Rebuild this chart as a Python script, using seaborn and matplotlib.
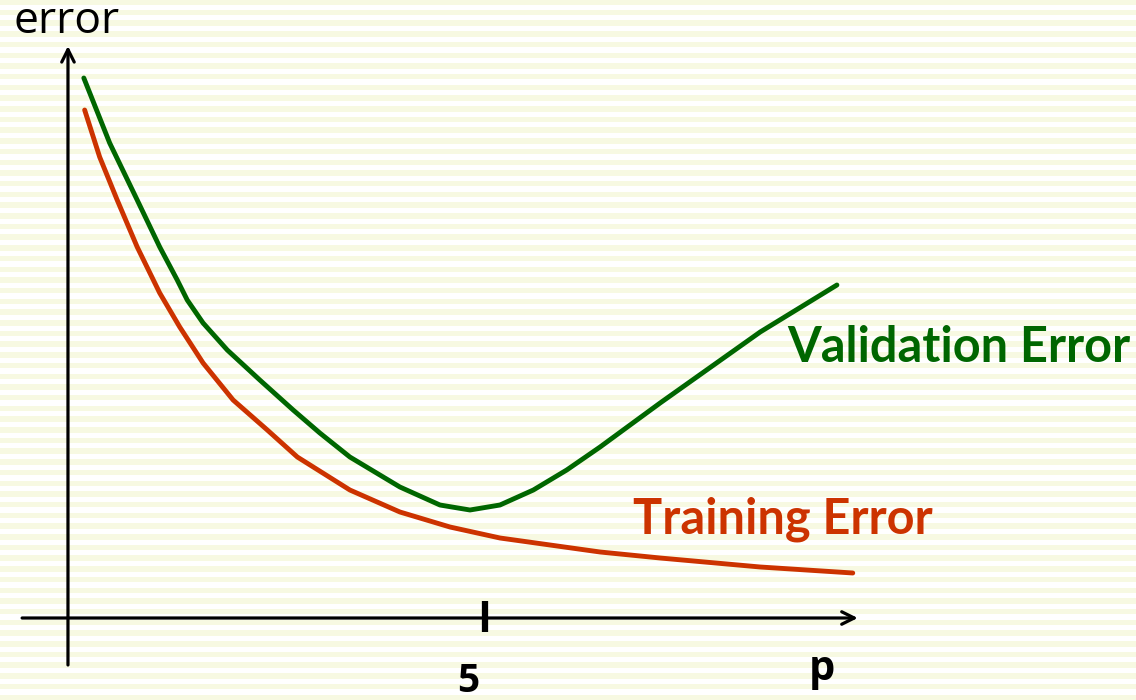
import numpy as np
import pandas as pd
import seaborn as sns
import matplotlib.pyplot as plt

# values (p on the x axis, error on the y axis)
p_val = [0.19, 0.50, 0.83, 1.10, 1.31, 1.43, 1.62, 1.91, 2.30, 2.70, 3.02,
         3.38, 3.98, 4.46, 4.82, 5.18, 5.58, 5.98, 6.38, 7.10, 8.30, 9.22]
err_val = [5.40, 4.75, 4.18, 3.71, 3.38, 3.18, 2.95, 2.68, 2.38, 2.08, 1.85,
           1.61, 1.31, 1.13, 1.08, 1.13, 1.28, 1.48, 1.71, 2.15, 2.86, 3.33]

p_train = [0.20, 0.38, 0.59, 0.83, 1.10, 1.34, 1.62, 1.98, 2.39, 2.75, 3.38,
           3.98, 4.58, 5.18, 5.78, 6.38, 7.10, 8.30, 9.41]
err_train = [5.08, 4.61, 4.18, 3.71, 3.25, 2.91, 2.55, 2.18, 1.88, 1.61, 1.28,
             1.06, 0.91, 0.80, 0.73, 0.66, 0.60, 0.51, 0.45]

tick_p = 5
green = '#006600'
red = '#CC3300'

df = pd.concat([
    pd.DataFrame({'p': p_val, 'error': err_val, 'curve': 'Validation Error'}),
    pd.DataFrame({'p': p_train, 'error': err_train, 'curve': 'Training Error'}),
])

sns.set_style('white')
fig = plt.figure(figsize=(11.36, 7), dpi=100)
ax = fig.add_axes([0, 0, 1, 1])
ax.set_xlim(-0.815, 12.806)
ax.set_ylim(-0.82, 6.18)
ax.axis('off')

# striped background
for y0 in np.arange(-0.82, 6.2, 0.107):
    ax.axhspan(y0, y0 + 0.055, color='#F7F9E2', lw=0, zorder=0)

sns.lineplot(data=df, x='p', y='error', hue='curve', sort=False,
             palette={'Validation Error': green, 'Training Error': red},
             linewidth=3.5, legend=False, ax=ax, zorder=3)

# axes with arrows
arrow = dict(arrowstyle='->,head_length=0.9,head_width=0.45', lw=2.3, color='black',
             shrinkA=0, shrinkB=0)
ax.annotate('', xy=(0, 5.72), xytext=(0, -0.47), arrowprops=arrow)
ax.annotate('', xy=(9.47, 0), xytext=(-0.55, 0), arrowprops=arrow)
ax.plot([tick_p, tick_p], [-0.14, 0.17], color='black', lw=4.5, solid_capstyle='butt')

ax.text(-0.02, 5.96, 'error', fontsize=32, color='black', ha='center', va='center',
        family='Open Sans')
ax.text(tick_p - 0.2, -0.63, '5', fontsize=28, fontweight='bold', color='black',
        ha='center', va='center', family='Open Sans')
ax.text(9.04, -0.51, 'p', fontsize=30, fontweight='bold', color='black',
        ha='center', va='center', family='Open Sans')
ax.text(8.62, 2.71, 'Validation Error', fontsize=35, fontweight='bold', color=green,
        ha='left', va='center', family='Lato')
ax.text(6.77, 0.99, 'Training Error', fontsize=35, fontweight='bold', color=red,
        ha='left', va='center', family='Lato')

fig.savefig('out.png', dpi=100)
